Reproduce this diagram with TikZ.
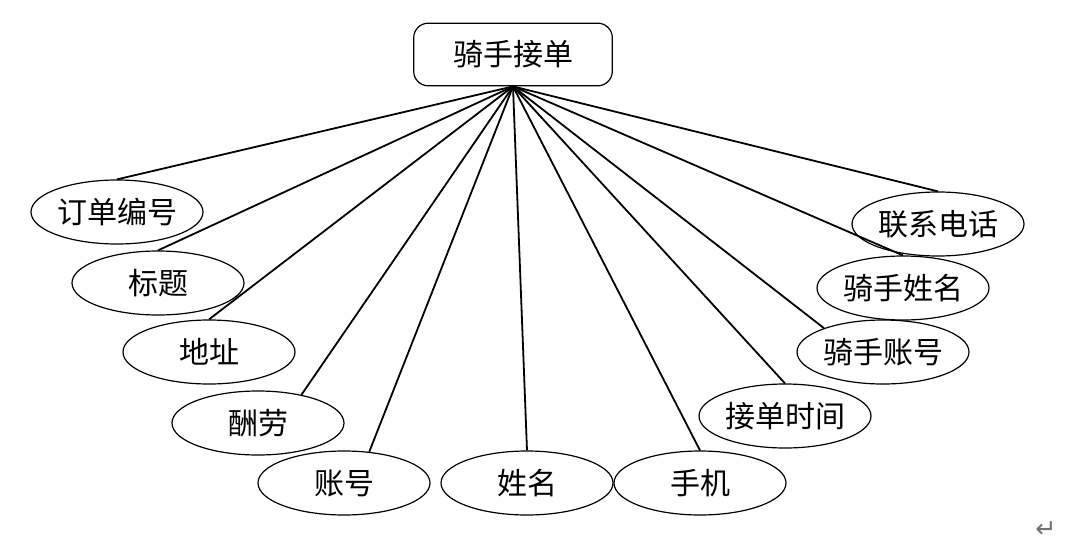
\documentclass[tikz,border=0pt]{standalone}
\usepackage{fontspec}
\newfontfamily\cjk{Noto Sans CJK SC}
\newfontfamily\symfont{DejaVu Sans}
\usetikzlibrary{shapes.geometric}
\tikzset{
  attr/.style={ellipse, draw, line width=0.9pt, minimum width=129pt, minimum height=48pt, inner sep=0pt, font=\cjk\fontsize{22.5}{26}\selectfont},
  entity/.style={rectangle, rounded corners=11pt, draw, line width=0.9pt, minimum width=149pt, minimum height=47pt, inner sep=0pt, font=\cjk\fontsize{22.5}{26}\selectfont},
  link/.style={line width=1.35pt}
}
\begin{document}
\begin{tikzpicture}[x=0.75pt,y=-0.75pt]
\useasboundingbox (0,0) rectangle (1092,549);
\node[entity] (top) at (513,54.5) {骑手接单};
\node[attr] (ddbh) at (117,212) {订单编号};
\node[attr] (bt) at (158,283) {标题};
\node[attr] (dz) at (209,352) {地址};
\node[attr] (cl) at (258,423) {酬劳};
\node[attr] (zh) at (344,483) {账号};
\node[attr] (xm) at (527,483) {姓名};
\node[attr] (sj) at (700,483) {手机};
\node[attr] (jdsj) at (785,416) {接单时间};
\node[attr] (qszh) at (883,352) {骑手账号};
\node[attr] (qsxm) at (903,288) {骑手姓名};
\node[attr] (lxdh) at (938,224) {联系电话};
\draw[link] (top.south) -- (ddbh.north);
\draw[link] (top.south) -- (bt.north);
\draw[link] (top.south) -- (dz.north);
\draw[link] (top.south) -- (cl.33);
\draw[link] (top.south) -- (zh.51);
\draw[link] (top.south) -- (xm.north);
\draw[link] (top.south) -- (sj.north);
\draw[link] (top.south) -- (jdsj.north);
\draw[link] (top.south) -- (qszh.158);
\draw[link] (top.south) -- (qsxm.north);
\draw[link] (top.south) -- (lxdh.north);
\node[text=black!55, font=\symfont\fontsize{19}{21}\selectfont, inner sep=0pt] (ret) at (1046,530) {↵};
\end{tikzpicture}
\end{document}
